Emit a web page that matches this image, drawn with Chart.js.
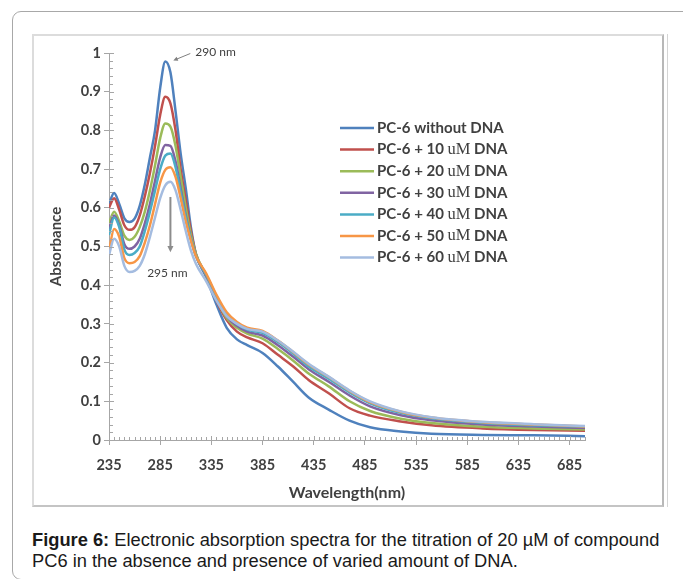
<!DOCTYPE html>
<html>
<head>
<meta charset="utf-8">
<script src="https://cdn.jsdelivr.net/npm/chart.js@4.4.0/dist/chart.umd.min.js"></script>
<style>
  body { margin: 0; width: 683px; height: 579px; overflow: hidden; background: #fff; position: relative; }
  .card { position: absolute; left: 12px; top: 11px; width: 720px; height: 567px; border: 1px solid #a8a8a8; border-radius: 9px; }
  .frame { position: absolute; left: 32px; top: 34px; width: 628px; height: 469px; border: 2px solid #dcdcdc; border-right-color: #b8b8b8; border-bottom-color: #c4c4c4; }
  .side { position: absolute; left: 667px; top: 34px; width: 1px; height: 473px; background: #d4d4d4; }
  .wrap { position: absolute; left: 34px; top: 37px; width: 628px; height: 467px; }
  .caption { position: absolute; left: 32px; top: 530px; width: 650px; font: 18.3px "Liberation Sans", Arial, sans-serif; line-height: 20.5px; color: #1a1a1a; white-space: nowrap; }
</style>
</head>
<body>
<div class="card"></div>
<div class="frame"></div>
<div class="side"></div>
<div class="wrap"><canvas id="spectra" width="628" height="467"></canvas></div>
<div class="caption"><b>Figure 6:</b> Electronic absorption spectra for the titration of 20 µM of compound<br>PC6 in the absence and presence of varied amount of DNA.</div>
<script>
// wavelengths (nm) shared by all curves
const wavelength = [235, 240, 245, 250, 255, 260, 265, 270, 275, 280, 285, 290, 295, 300, 305, 310, 315, 320,
  330, 340, 350, 360, 370, 385, 400, 415, 430, 450, 470, 490, 520, 550, 600, 650, 700];

const noDNA = [0.61, 0.638, 0.61, 0.573, 0.563, 0.572, 0.605, 0.66, 0.73, 0.80, 0.91, 0.978, 0.95, 0.85, 0.74, 0.65, 0.55, 0.48,
  0.42, 0.35, 0.29, 0.26, 0.245, 0.225, 0.19, 0.15, 0.11, 0.078, 0.05, 0.033, 0.022, 0.016, 0.013, 0.012, 0.01];
const dna10 = [0.60, 0.625, 0.595, 0.555, 0.543, 0.55, 0.58, 0.63, 0.69, 0.76, 0.84, 0.887, 0.87, 0.80, 0.70, 0.62, 0.54, 0.48,
  0.425, 0.36, 0.31, 0.28, 0.265, 0.25, 0.22, 0.19, 0.155, 0.12, 0.082, 0.063, 0.048, 0.038, 0.03, 0.026, 0.024];
const dna20 = [0.56, 0.59, 0.565, 0.528, 0.517, 0.525, 0.55, 0.59, 0.645, 0.71, 0.78, 0.818, 0.81, 0.76, 0.68, 0.60, 0.53, 0.48,
  0.425, 0.365, 0.315, 0.29, 0.275, 0.262, 0.235, 0.205, 0.172, 0.138, 0.10, 0.075, 0.055, 0.044, 0.034, 0.03, 0.027];
const dna30 = [0.545, 0.58, 0.555, 0.506, 0.494, 0.50, 0.52, 0.56, 0.61, 0.67, 0.73, 0.762, 0.76, 0.72, 0.65, 0.58, 0.52, 0.475,
  0.425, 0.37, 0.32, 0.295, 0.28, 0.27, 0.245, 0.215, 0.183, 0.15, 0.115, 0.087, 0.064, 0.051, 0.04, 0.035, 0.031];
const dna40 = [0.53, 0.575, 0.55, 0.492, 0.478, 0.483, 0.50, 0.54, 0.59, 0.645, 0.70, 0.735, 0.74, 0.705, 0.64, 0.575, 0.52, 0.475,
  0.427, 0.372, 0.325, 0.30, 0.285, 0.277, 0.253, 0.223, 0.19, 0.158, 0.123, 0.095, 0.07, 0.056, 0.044, 0.038, 0.034];
const dna50 = [0.49, 0.545, 0.525, 0.47, 0.457, 0.46, 0.475, 0.51, 0.555, 0.61, 0.665, 0.698, 0.705, 0.68, 0.625, 0.565, 0.515, 0.475,
  0.43, 0.375, 0.33, 0.305, 0.29, 0.282, 0.257, 0.227, 0.195, 0.162, 0.127, 0.098, 0.073, 0.058, 0.046, 0.04, 0.035];
const dna60 = [0.478, 0.52, 0.50, 0.45, 0.434, 0.437, 0.45, 0.48, 0.525, 0.575, 0.625, 0.658, 0.667, 0.645, 0.595, 0.54, 0.49, 0.455,
  0.41, 0.36, 0.32, 0.30, 0.287, 0.28, 0.257, 0.228, 0.197, 0.163, 0.128, 0.10, 0.074, 0.059, 0.047, 0.041, 0.036];

const seriesNames = ['PC-6 without DNA', 'PC-6 + 10 uM DNA', 'PC-6 + 20 uM DNA', 'PC-6 + 30 uM DNA',
  'PC-6 + 40 uM DNA', 'PC-6 + 50 uM DNA', 'PC-6 + 60 uM DNA'];
const seriesValues = [noDNA, dna10, dna20, dna30, dna40, dna50, dna60];
const seriesColors = ['#4f81bd', '#c0504d', '#9bbb59', '#8064a2', '#4bacc6', '#f79646', '#a4bce0'];

const xTicks = [235, 285, 335, 385, 435, 485, 535, 585, 635, 685];
const yTicks = [0, 0.1, 0.2, 0.3, 0.4, 0.5, 0.6, 0.7, 0.8, 0.9, 1];

const axisColor = '#a6a6a6';
const textColor = '#404040';
const font = 'Lato, "Open Sans", sans-serif';

// minor tick marks like the Excel axes
const minorTicks = {
  id: 'minorTicks',
  afterDraw(chart) {
    const { ctx, scales: { x, y }, chartArea: a } = chart;
    ctx.save();
    ctx.strokeStyle = axisColor;
    ctx.lineWidth = 1;
    ctx.beginPath();
    for (let w = 235; w <= 700; w += 5) {
      const px = Math.round(x.getPixelForValue(w)) + 0.5;
      const major = (w - 235) % 50 === 0;
      ctx.moveTo(px, a.bottom - (major ? 4 : 3));
      ctx.lineTo(px, a.bottom);
    }
    for (let k = 0; k <= 50; k++) {
      const py = Math.round(y.getPixelForValue(k * 0.02)) + 0.5;
      ctx.moveTo(a.left, py);
      ctx.lineTo(a.left + (k % 5 === 0 ? 5 : 4), py);
    }
    ctx.stroke();
    ctx.restore();
  }
};

// legend drawn inside the plot area
const insideLegend = {
  id: 'insideLegend',
  afterDraw(chart) {
    const ctx = chart.ctx;
    ctx.save();
    ctx.textBaseline = 'middle';
    chart.data.datasets.forEach((ds, i) => {
      const yy = 91 + i * 21.6;
      ctx.strokeStyle = ds.borderColor;
      ctx.lineWidth = 2.5;
      ctx.beginPath();
      ctx.moveTo(306, yy);
      ctx.lineTo(340, yy);
      ctx.stroke();
      ctx.fillStyle = textColor;
      let xx = 343;
      const parts = ds.label.split('uM');
      ctx.font = 'bold 15px ' + font;
      ctx.fillText(parts[0], xx, yy);
      xx += ctx.measureText(parts[0]).width;
      if (parts.length > 1) {
        ctx.font = '16.5px "Liberation Serif", serif';
        ctx.fillText('uM', xx, yy);
        xx += ctx.measureText('uM').width;
        ctx.font = 'bold 15px ' + font;
        ctx.fillText(parts[1], xx, yy);
      }
    });
    ctx.restore();
  }
};

// peak labels and arrows
function arrow(ctx, x1, y1, x2, y2, head) {
  const ang = Math.atan2(y2 - y1, x2 - x1);
  ctx.beginPath();
  ctx.moveTo(x1, y1);
  ctx.lineTo(x2 - Math.cos(ang) * head * 0.8, y2 - Math.sin(ang) * head * 0.8);
  ctx.stroke();
  ctx.beginPath();
  ctx.moveTo(x2, y2);
  ctx.lineTo(x2 - head * Math.cos(ang - 0.45), y2 - head * Math.sin(ang - 0.45));
  ctx.lineTo(x2 - head * Math.cos(ang + 0.45), y2 - head * Math.sin(ang + 0.45));
  ctx.closePath();
  ctx.fill();
}
const peakNotes = {
  id: 'peakNotes',
  afterDraw(chart) {
    const { ctx, scales: { x, y } } = chart;
    ctx.save();
    ctx.fillStyle = '#7f7f7f';
    ctx.strokeStyle = '#7f7f7f';
    // 290 nm
    const px = x.getPixelForValue(290), py = y.getPixelForValue(0.978);
    ctx.lineWidth = 1;
    arrow(ctx, px + 25, py - 8, px + 8, py - 1, 5);
    ctx.fillStyle = textColor;
    ctx.font = '12px ' + font;
    ctx.textBaseline = 'middle';
    ctx.fillText('290 nm', px + 30, py - 9);
    // 295 nm
    const qx = x.getPixelForValue(295);
    ctx.fillStyle = '#8c8c8c';
    ctx.strokeStyle = '#8c8c8c';
    ctx.lineWidth = 2;
    arrow(ctx, qx, y.getPixelForValue(0.628), qx, y.getPixelForValue(0.485), 7);
    ctx.fillStyle = textColor;
    ctx.textAlign = 'center';
    ctx.fillText('295 nm', qx - 3, y.getPixelForValue(0.43));
    ctx.restore();
  }
};

new Chart('spectra', {
  type: 'line',
  data: {
    datasets: seriesValues.map((vals, i) => ({
      label: seriesNames[i],
      data: wavelength.map((w, j) => ({ x: w, y: vals[j] })),
      borderColor: seriesColors[i],
      borderWidth: 2.5,
      pointRadius: 0,
      cubicInterpolationMode: 'monotone',
      order: seriesValues.length - i
    }))
  },
  options: {
    responsive: false,
    animation: false,
    layout: { padding: { left: 0, right: 77, top: 16, bottom: 0 } },
    plugins: { legend: { display: false }, tooltip: { enabled: false } },
    scales: {
      x: {
        type: 'linear', min: 235, max: 700,
        afterBuildTicks: s => { s.ticks = xTicks.map(v => ({ value: v })); },
        afterFit: s => { s.height = 64; },
        grid: { drawOnChartArea: false, tickLength: 5, color: axisColor },
        border: { color: axisColor },
        ticks: { padding: 12, color: textColor, font: { family: font, size: 14.5, weight: 'bold' }, maxRotation: 0, callback: v => String(v) },
        title: { display: true, text: 'Wavelength(nm)', color: textColor, font: { family: font, size: 16, weight: 'bold' }, padding: { top: 0, bottom: 2 } }
      },
      y: {
        min: 0, max: 1,
        afterBuildTicks: s => { s.ticks = yTicks.map(v => ({ value: v })); },
        afterFit: s => { s.width = 75; },
        grid: { drawOnChartArea: false, tickLength: 5, color: axisColor },
        border: { color: axisColor },
        ticks: { padding: 3, color: textColor, font: { family: font, size: 14.5, weight: 'bold' }, callback: v => String(+v.toFixed(1)) },
        title: { display: true, text: 'Absorbance', color: textColor, font: { family: font, size: 15, weight: 'bold' }, padding: { top: 13, bottom: 0 } }
      }
    }
  },
  plugins: [minorTicks, insideLegend, peakNotes]
});
</script>
</body>
</html>
